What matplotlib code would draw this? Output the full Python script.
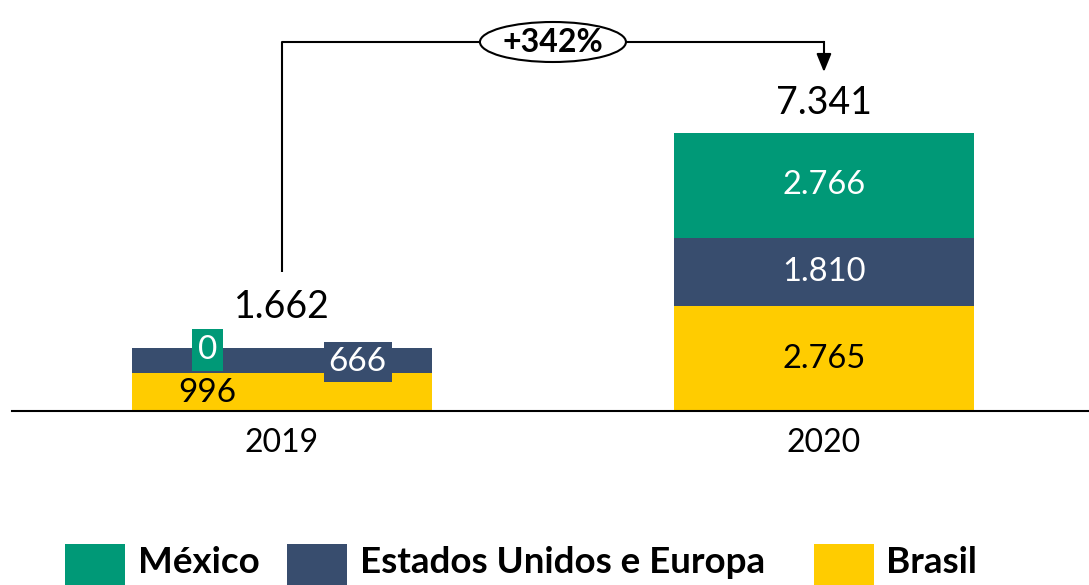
import matplotlib
matplotlib.use("Agg")
import matplotlib.pyplot as plt
from matplotlib.patches import Ellipse, Rectangle

years = ["2019", "2020"]
series = ["Brasil", "Estados Unidos e Europa", "México"]
brasil = [996, 2765]
eua_europa = [666, 1810]
mexico = [0, 2766]
totals = [1662, 7341]
growth_label = "+342%"
legend_order = ["México", "Estados Unidos e Europa", "Brasil"]

colors = {"México": "#009977", "Estados Unidos e Europa": "#384D6E", "Brasil": "#FFCC00"}
values = {"Brasil": brasil, "Estados Unidos e Europa": eua_europa, "México": mexico}
text_colors = {"México": "white", "Estados Unidos e Europa": "white", "Brasil": "black"}

def fmt(v):
    return f"{v:,}".replace(",", ".")

FONT = "Lato"
plt.rcParams["font.family"] = [FONT, "DejaVu Sans"]

PX = 0.03787  # pixels per unit
fig = plt.figure(figsize=(10.89, 5.85), dpi=100)
ax = fig.add_axes([12/1089, 174/585, 1077/1089, 411/585])
ax.set_xlim(-0.498, 1.489)
ax.set_ylim(0, 411/PX)
x = list(range(len(years)))
width = 0.555

bottoms = [0, 0]
for s in series:
    vals = values[s]
    ax.bar(x, vals, width=width, bottom=bottoms, color=colors[s], edgecolor="none", zorder=2)
    bottoms = [b + v for b, v in zip(bottoms, vals)]

# 2020 centered labels
b = 0
for s in series:
    v = values[s][1]
    ax.text(1, b + v/2, fmt(v), ha="center", va="center", fontsize=23.5, color=text_colors[s], zorder=3)
    b += v

# 2019 offset labels (as in original)
ax.text(-0.138, 1600, fmt(mexico[0]), ha="center", va="center", fontsize=24, color="white", zorder=4,
        bbox=dict(boxstyle="square,pad=0.18", fc=colors["México"], ec="none"))
ax.text(0.14, 1294, fmt(eua_europa[0]), ha="center", va="center", fontsize=24, color="white", zorder=4,
        bbox=dict(boxstyle="square,pad=0.15", fc=colors["Estados Unidos e Europa"], ec="none"))
ax.text(-0.138, 475, fmt(brasil[0]), ha="center", va="center", fontsize=24, color="black", zorder=4)

# totals
ax.text(0, totals[0] + 1084, fmt(totals[0]), ha="center", va="center", fontsize=27, color="black")
ax.text(1, totals[1] + 792, fmt(totals[1]), ha="center", va="center", fontsize=27, color="black")

# growth connector
y_top = (411-42)/PX
y_start = (411-272)/PX
y_tip = (411-72)/PX
ax.plot([0, 0, 1], [y_start, y_top, y_top], color="black", lw=1.5, solid_capstyle="butt", zorder=1)
ax.plot([1, 1], [y_top, y_tip + 300], color="black", lw=1.5, zorder=1)
ax.annotate("", xy=(1, y_tip), xytext=(1, y_tip + 500),
            arrowprops=dict(arrowstyle="-|>,head_length=1.1,head_width=0.45", color="black", lw=1.5,
                            shrinkA=0, shrinkB=0))
xm = (0 + 1)/2
ax.add_patch(Ellipse((xm, y_top), 146/542, 40/PX, fc="white", ec="black", lw=1.5, zorder=3))
ax.text(xm, y_top, growth_label, ha="center", va="center", fontsize=23, fontweight="bold", zorder=4)

# axes styling
for sp in ["top", "right", "left"]:
    ax.spines[sp].set_visible(False)
ax.spines["bottom"].set_linewidth(1.5)
ax.set_yticks([])
ax.set_xticks(x)
ax.set_xticklabels(years, fontsize=23)
ax.tick_params(axis="x", length=0, pad=12)

# legend (manual, matching layout)
leg_x = [65, 287, 814]
text_x = [138, 360, 886]
for name, lx, tx in zip(legend_order, leg_x, text_x):
    fig.add_artist(Rectangle((lx/1089, 0), 60/1089, 41/585, transform=fig.transFigure,
                             fc=colors[name], ec="none"))
    fig.text(tx/1089, 22.5/585, name, ha="left", va="center", fontsize=26.5, fontweight="bold")

fig.savefig("out.png", dpi=100)
